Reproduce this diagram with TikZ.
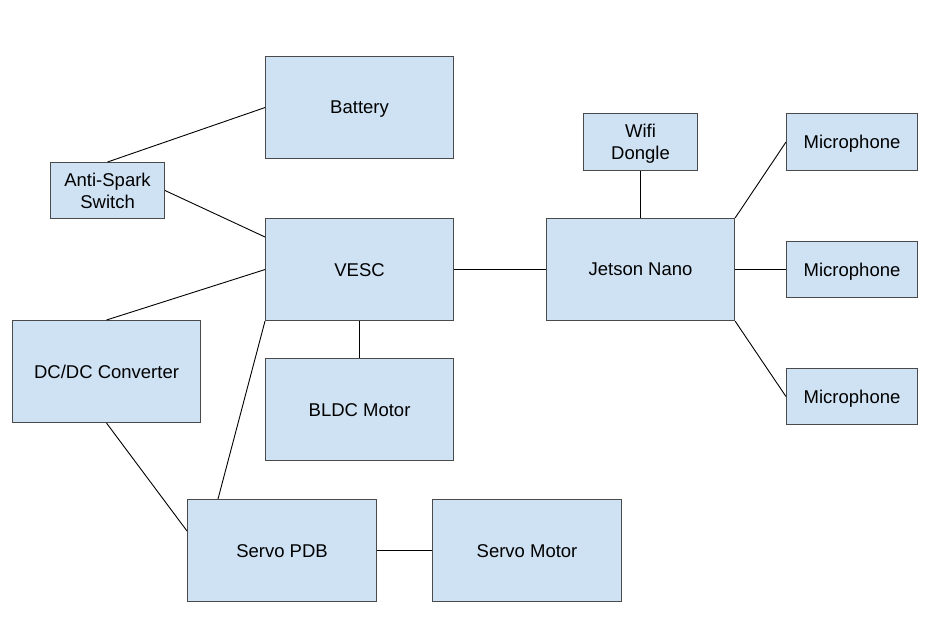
\documentclass[tikz,border=0pt]{standalone}
\usepackage{fontspec}
\setmainfont{Liberation Sans}
\definecolor{boxfill}{HTML}{CFE2F3}
\definecolor{boxline}{HTML}{4A4A4A}
\begin{document}
\begin{tikzpicture}[x=1pt,y=-1pt,
  blk/.style={draw=boxline,line width=1.1pt,fill=boxfill,anchor=north west,inner sep=0pt,
    align=center,font=\fontsize{18.5}{22}\selectfont,text depth=0pt},
  wire/.style={draw=black,line width=0.9pt}]
\useasboundingbox (0,0) rectangle (935,639);
\node[blk,minimum width=188,minimum height=102] (bat) at (265,56) {Battery};
\node[blk,minimum width=114,minimum height=56] (as) at (50,162) {Anti-Spark\\Switch};
\node[blk,minimum width=188,minimum height=102] (vesc) at (265,218) {VESC};
\node[blk,minimum width=188,minimum height=102] (jn) at (546,218) {Jetson Nano};
\node[blk,minimum width=114,minimum height=57] (wifi) at (583,113) {Wifi\\Dongle};
\node[blk,minimum width=131,minimum height=57] (m1) at (786,113) {Microphone};
\node[blk,minimum width=131,minimum height=56] (m2) at (786,241) {Microphone};
\node[blk,minimum width=131,minimum height=56] (m3) at (786,368) {Microphone};
\node[blk,minimum width=188,minimum height=102] (dc) at (12,320) {DC/DC Converter};
\node[blk,minimum width=188,minimum height=102] (bldc) at (265,358) {BLDC Motor};
\node[blk,minimum width=189,minimum height=102] (pdb) at (187,499) {Servo PDB};
\node[blk,minimum width=189,minimum height=102] (sm) at (432,499) {Servo Motor};
\draw[wire] (as.north) -- (bat.west);
\draw[wire] (as.east) -- ([yshift=-19pt]vesc.north west);
\draw[wire] (dc.north) -- (vesc.west);
\draw[wire] (vesc.south west) -- ([xshift=31pt]pdb.north west);
\draw[wire] (dc.south) -- ([yshift=-32pt]pdb.north west);
\draw[wire] (vesc.south) -- (bldc.north);
\draw[wire] (vesc.east) -- (jn.west);
\draw[wire] (wifi.south) -- (jn.north);
\draw[wire] (jn.north east) -- (m1.west);
\draw[wire] (jn.east) -- (m2.west);
\draw[wire] (jn.south east) -- (m3.west);
\draw[wire] (pdb.east) -- (sm.west);
\end{tikzpicture}
\end{document}
